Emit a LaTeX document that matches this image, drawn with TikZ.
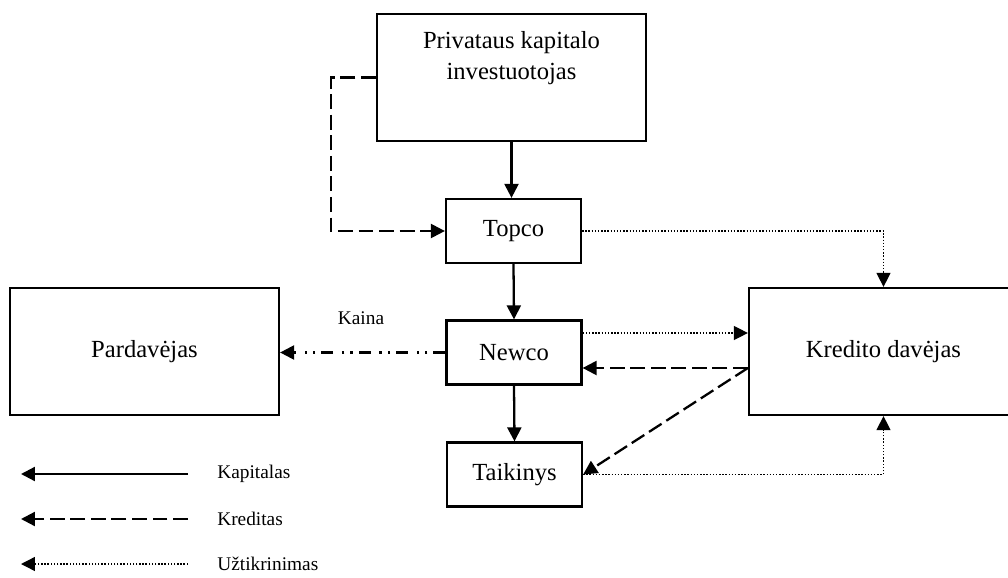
\documentclass[tikz,border=0pt]{standalone}
\usepackage{fontspec}
\setmainfont{Liberation Serif}
\usetikzlibrary{calc,arrows.meta}
\tikzset{
  firm/.style={draw=black, line width=1.3pt, minimum width=2.7cm, minimum height=1.28cm, inner sep=0pt, font=\fontsize{14}{17}\selectfont},
  bigfirm/.style={firm, minimum width=5.38cm, minimum height=2.54cm},
  kapital/.style={line width=1.3pt, -{Triangle[length=0.28cm,width=0.28cm]}},
  kredit/.style={kapital, dash pattern=on 8.5pt off 3.2pt},
  price/.style={kapital, dash pattern=on 6.8pt off 3.4pt on 1.3pt off 3.4pt on 1.3pt off 5.1pt},
  guarantee/.style={line width=0.8pt, dash pattern=on 0.8pt off 1pt, -{Triangle[length=0.28cm,width=0.28cm]}},
  legendtext/.style={anchor=west, inner sep=0pt, font=\fontsize{11}{13}\selectfont},
}

\begin{document}
\begin{tikzpicture}[x=0.02cm,y=-0.02cm]
\useasboundingbox (0,0) rectangle (1008,578);
% firms
\node [bigfirm, label={[align=center, anchor=north, inner sep=0pt, yshift=-0.36cm, font=\fontsize{14}{17.6}\selectfont]north:Privataus kapitalo\\investuotojas}] (inv) at (511.5,77.5) {};
\node [firm] (topco) at (513.5,231) {Topco};
\node [firm] (newco) at (514,352.5) {Newco};
\node [firm] (taik) at (514.5,474.5) {Taikinys};
\node [bigfirm] (pard) at (144.5,351.5) {Pardavėjas};
\node [bigfirm] (kred) at (883.5,351.5) {Kredito davėjas};
% capital
\draw [kapital] (inv.south) to (inv.south |- topco.north);
\draw [kapital] (topco.south) to (newco.north);
\draw [kapital] (newco.south) to (taik.north);
% credit
\draw [kredit] (inv.west) -- ++(-45,0) |- (topco.west);
\coordinate (kc) at ($(kred.west)+(0,16.5)$);
\draw [kredit] (kc) to (kc -| newco.east);
\draw [kredit] (kc) to (taik.east);
% guarantee
\draw [guarantee] (topco.east) -| (kred.north);
\coordinate (ng) at ($(newco.east)+(0,-19.5)$);
\draw [guarantee] (ng) to (ng -| kred.west);
\draw [guarantee] (taik.east) -| (kred.south);
% price
\draw [price] (newco.west) to (newco.west -| pard.east);
\node [legendtext, anchor=center] (kaina) at (361,318) {Kaina};
% legend
\node [legendtext] (lkap) at (217,474) {Kapitalas};
\node [legendtext] (lkred) at (217,519) {Kreditas};
\node [legendtext] (luzt) at (217,564) {Užtikrinimas};
\coordinate (kap0) at (188,474);
\coordinate (kap1) at (21,474);
\coordinate (kred0) at (188,519);
\coordinate (kred1) at (21,519);
\coordinate (uzt0) at (188,564);
\coordinate (uzt1) at (21,564);
\draw [kapital] (kap0) to (kap1);
\draw [kredit] (kred0) to (kred1);
\draw [guarantee] (uzt0) to (uzt1);
\end{tikzpicture}
\end{document}
